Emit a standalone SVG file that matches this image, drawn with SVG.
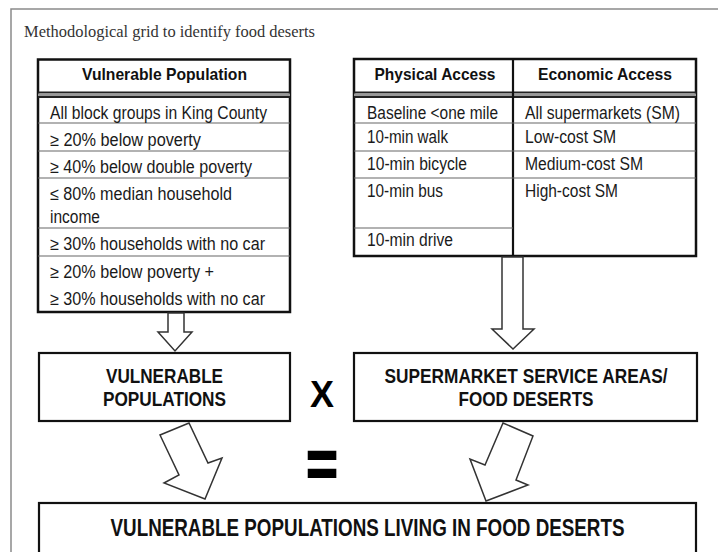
<svg xmlns="http://www.w3.org/2000/svg" width="718" height="552" viewBox="0 0 718 552">
<style>
.frame{fill:none;stroke:#8a8a8a;stroke-width:1.5}
.title{font-family:"Liberation Serif","Times New Roman",serif;font-size:16.5px;fill:#333}
.tbl{fill:#fff;stroke:#111;stroke-width:2.5}
.row{stroke:#666;stroke-width:1.2}
.hd{font-family:"Liberation Sans",Arial,sans-serif;font-size:17px;font-weight:bold;fill:#111;text-anchor:middle}
.tx{font-family:"Liberation Sans",Arial,sans-serif;font-size:17.5px;fill:#1a1a1a}
.box{fill:#fff;stroke:#111;stroke-width:2.2}
.bt{font-family:"Liberation Sans",Arial,sans-serif;font-size:21px;font-weight:bold;fill:#111;text-anchor:middle}
.bt2{font-family:"Liberation Sans",Arial,sans-serif;font-size:23px;font-weight:bold;fill:#111;text-anchor:middle}
.big{font-family:"Liberation Sans",Arial,sans-serif;font-weight:bold;fill:#000;text-anchor:middle}
.arr{fill:#fff;stroke:#333;stroke-width:1.5;stroke-linejoin:miter}
</style>
<rect width="718" height="552" fill="#fff"/>
<path class="frame" d="M11,552 V9 H718"/>
<text class="title" x="24" y="37" textLength="291" lengthAdjust="spacingAndGlyphs">Methodological grid to identify food deserts</text>

<g id="vulnerable-population-table">
<rect class="tbl" x="38" y="59.5" width="252" height="252.5"/>
<line x1="38" y1="92.5" x2="290" y2="92.5" stroke="#222" stroke-width="2"/>
<rect x="38" y="93.5" width="252" height="2.5" fill="#999"/>
<line x1="38" y1="97" x2="290" y2="97" stroke="#222" stroke-width="2"/>
<line class="row" x1="38" y1="123" x2="290" y2="123"/>
<line class="row" x1="38" y1="151" x2="290" y2="151"/>
<line class="row" x1="38" y1="178" x2="290" y2="178"/>
<line class="row" x1="38" y1="228" x2="290" y2="228"/>
<line class="row" x1="38" y1="256" x2="290" y2="256"/>
<text class="hd" x="164.5" y="80" textLength="165" lengthAdjust="spacingAndGlyphs">Vulnerable Population</text>
<text class="tx" x="50" y="119" textLength="217" lengthAdjust="spacingAndGlyphs">All block groups in King County</text>
<text class="tx" x="50" y="146" textLength="151" lengthAdjust="spacingAndGlyphs">≥ 20% below poverty</text>
<text class="tx" x="50" y="173" textLength="202" lengthAdjust="spacingAndGlyphs">≥ 40% below double poverty</text>
<text class="tx" x="50" y="200" textLength="182" lengthAdjust="spacingAndGlyphs">≤ 80% median household</text>
<text class="tx" x="50" y="223" textLength="50" lengthAdjust="spacingAndGlyphs">income</text>
<text class="tx" x="50" y="250" textLength="215" lengthAdjust="spacingAndGlyphs">≥ 30% households with no car</text>
<text class="tx" x="50" y="278" textLength="164" lengthAdjust="spacingAndGlyphs">≥ 20% below poverty +</text>
<text class="tx" x="50" y="305" textLength="215" lengthAdjust="spacingAndGlyphs">≥ 30% households with no car</text>
</g>

<g id="access-table">
<rect class="tbl" x="354" y="59" width="342" height="197"/>
<line x1="354" y1="92.5" x2="696" y2="92.5" stroke="#222" stroke-width="2"/>
<rect x="354" y="93.5" width="342" height="2.5" fill="#999"/>
<line x1="354" y1="97" x2="696" y2="97" stroke="#222" stroke-width="2"/>
<line x1="513" y1="59" x2="513" y2="256" stroke="#111" stroke-width="2.2"/>
<line class="row" x1="354" y1="123" x2="696" y2="123"/>
<line class="row" x1="354" y1="151" x2="696" y2="151"/>
<line class="row" x1="354" y1="178" x2="696" y2="178"/>
<line class="row" x1="354" y1="228" x2="513" y2="228"/>
<text class="hd" x="435" y="80" textLength="121" lengthAdjust="spacingAndGlyphs">Physical Access</text>
<text class="hd" x="605" y="80" textLength="134" lengthAdjust="spacingAndGlyphs">Economic Access</text>
<text class="tx" x="367" y="119" textLength="131" lengthAdjust="spacingAndGlyphs">Baseline &lt;one mile</text>
<text class="tx" x="367" y="143" textLength="81" lengthAdjust="spacingAndGlyphs">10-min walk</text>
<text class="tx" x="367" y="170" textLength="100" lengthAdjust="spacingAndGlyphs">10-min bicycle</text>
<text class="tx" x="367" y="197" textLength="76" lengthAdjust="spacingAndGlyphs">10-min bus</text>
<text class="tx" x="367" y="246" textLength="86" lengthAdjust="spacingAndGlyphs">10-min drive</text>
<text class="tx" x="525" y="119" textLength="155" lengthAdjust="spacingAndGlyphs">All supermarkets (SM)</text>
<text class="tx" x="525" y="143" textLength="91" lengthAdjust="spacingAndGlyphs">Low-cost SM</text>
<text class="tx" x="525" y="170" textLength="118" lengthAdjust="spacingAndGlyphs">Medium-cost SM</text>
<text class="tx" x="525" y="197" textLength="93" lengthAdjust="spacingAndGlyphs">High-cost SM</text>
</g>

<g id="vulnerable-populations">
<rect class="box" x="39" y="353" width="251" height="68"/>
<text class="bt" transform="translate(164.5,383) scale(0.82,1)" textLength="142.7" lengthAdjust="spacingAndGlyphs">VULNERABLE</text>
<text class="bt" transform="translate(164.5,406) scale(0.82,1)" textLength="150" lengthAdjust="spacingAndGlyphs">POPULATIONS</text>
</g>

<g id="times-operator">
<text class="big" x="322" y="407" font-size="37" textLength="24" lengthAdjust="spacingAndGlyphs">X</text>
</g>

<g id="supermarket-service-areas">
<rect class="box" x="354" y="353" width="343" height="68"/>
<text class="bt" transform="translate(526,383) scale(0.8,1)" textLength="353.7" lengthAdjust="spacingAndGlyphs">SUPERMARKET SERVICE AREAS/</text>
<text class="bt" transform="translate(526,406) scale(0.8,1)" textLength="168.7" lengthAdjust="spacingAndGlyphs">FOOD DESERTS</text>
</g>

<g id="equals-operator">
<text class="big" x="322" y="486" font-size="54" stroke="#000" stroke-width="1.5" transform="translate(0,-120) scale(1,1.25)">=</text>
</g>

<g id="vulnerable-populations-in-food-deserts">
<rect class="box" x="39" y="503" width="657" height="60"/>
<text class="bt2" transform="translate(367.5,536) scale(0.85,1)" textLength="604.7" lengthAdjust="spacingAndGlyphs">VULNERABLE POPULATIONS LIVING IN FOOD DESERTS</text>
</g>

<g id="connectors">
<polygon class="arr" points="168,313 184,313 184,332 192,332 175,351 158,332 168,332"/>
<polygon class="arr" points="502,257 523,257 523,329 534,329 513,349 492,329 502,329"/>
<polygon class="arr" points="160,435 189,423 208,463 222,458 205,499 164,483 179,475"/>
<polygon class="arr" points="503,423 533,436 516,480 528,485 486,501 470,459 485,465"/>
</g>
</svg>
